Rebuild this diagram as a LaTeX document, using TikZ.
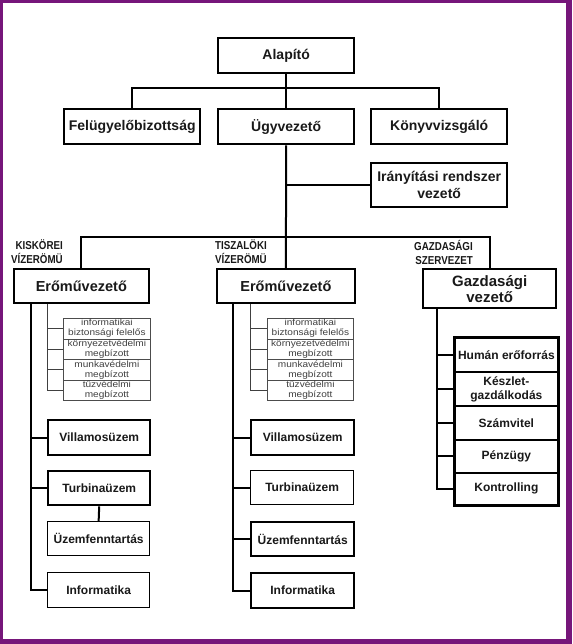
\documentclass[tikz,border=0pt]{standalone}
\usepackage{fontspec}
\setmainfont{Liberation Sans}
\newfontfamily\narrowfont[FakeStretch=0.85]{Liberation Sans}
\newfontfamily\widefont[FakeStretch=1.12]{Liberation Sans}
\definecolor{framecol}{RGB}{118,22,122}
\begin{document}
\begin{tikzpicture}[x=1pt,y=-1pt,
  box/.style={draw, anchor=north west, fill=white, align=center, inner sep=1pt, text=black!90, font=\fontsize{12}{14}\selectfont\bfseries},
  thickbox/.style={box, line width=2.4pt},
  thinbox/.style={box, line width=1.3pt},
  big/.style={font=\fontsize{14}{17}\selectfont\bfseries},
  lab/.style={anchor=east, align=right, inner sep=0pt, text=black!90, font=\narrowfont\fontsize{11.5}{14}\selectfont\bfseries},
  sbox/.style={draw=black!70, line width=0.8pt, anchor=north west, minimum height=20.5pt, inner sep=0pt, align=center, text=black!75, font=\widefont\fontsize{9}{10}\selectfont},
  stk/.style={draw, anchor=north west, line width=1.8pt, minimum width=103pt, inner sep=0pt, align=center, text=black!90, font=\fontsize{12}{14}\selectfont\bfseries},
  conn/.style={line width=2pt},
  sconn/.style={line width=0.9pt, draw=black!75}
]
\useasboundingbox (0,0) rectangle (572,644);
\fill[framecol] (0,0) rectangle (572,644);
\fill[white] (3,3) rectangle (566,639);

% top level
\node[thickbox, big, minimum width=136pt, minimum height=35pt] (alap) at (217,37) {Alapító};
\node[thickbox, big, minimum width=136pt, minimum height=35pt] (fel) at (63,108) {Felügyelőbizottság};
\node[thickbox, big, minimum width=136pt, minimum height=35pt] (ugy) at (217,108) {Ügyvezető};
\node[thickbox, big, minimum width=136pt, minimum height=35pt] (kony) at (370,108) {Könyvvizsgáló};
\node[thickbox, big, minimum width=136pt, minimum height=44pt] (iray) at (370,162) {Irányítási rendszer\\vezető};

\coordinate (bus1) at (285,88);
\draw[conn] (alap.south) -- (ugy.north);
\draw[conn] (fel.north) |- (bus1) -| (kony.north);

% second level
\node[box, line width=1.7pt, font=\fontsize{14.5}{17}\selectfont\bfseries, minimum width=135pt, minimum height=34pt] (er1) at (13,268) {Erőművezető};
\node[box, line width=1.7pt, font=\fontsize{14.5}{17}\selectfont\bfseries, minimum width=138pt, minimum height=34pt] (er2) at (216,268) {Erőművezető};
\node[thickbox, font=\fontsize{15}{16}\selectfont\bfseries, minimum width=133pt, minimum height=39pt] (gv) at (422,268) {Gazdasági\\vezető};

\draw[conn] (ugy.south) -- (er2.north);
\draw[conn] (iray.west) -- (iray.west -| ugy.south);
\coordinate (bus2) at (285,236.5);
\draw[conn] (er1.north) |- (bus2) -| (gv.north);

\node[lab] (lk) at (63,252) {KISKÖREI\\VÍZERÖMÜ};
\node[lab] (lt) at (267,252) {TISZALÖKI\\VÍZERÖMÜ};
\node[lab] (lg) at (473,252) {GAZDASÁGI\\SZERVEZET};

% left column small boxes
\node[sbox, minimum width=87pt] (a1) at (63,318) {informatikai\\biztonsági felelős};
\node[sbox, minimum width=87pt] (a2) at (63,338.5) {környezetvédelmi\\megbízott};
\node[sbox, minimum width=87pt] (a3) at (63,359) {munkavédelmi\\megbízott};
\node[sbox, minimum width=87pt] (a4) at (63,379.5) {tűzvédelmi\\megbízott};
\coordinate (s1) at ([xshift=34pt]er1.south west);
\draw[sconn] (s1) |- (a4.west);
\draw[sconn] (s1 |- a1.west) -- (a1.west);
\draw[sconn] (s1 |- a2.west) -- (a2.west);
\draw[sconn] (s1 |- a3.west) -- (a3.west);

% left column boxes
\node[thickbox, minimum width=102pt, minimum height=35pt] (v1) at (47,419) {Villamosüzem};
\node[thickbox, minimum width=102pt, minimum height=34pt] (t1) at (47,470) {Turbinaüzem};
\node[thinbox, minimum width=102pt, minimum height=34pt] (u1) at (47,521) {Üzemfenntartás};
\node[thinbox, minimum width=102pt, minimum height=35pt] (i1) at (47,572) {Informatika};
\coordinate (m1) at ([xshift=18pt]er1.south west);
\draw[conn] (m1) |- (i1.west);
\draw[conn] (m1 |- v1.west) -- (v1.west);
\draw[conn] (m1 |- t1.west) -- (t1.west);
\draw[conn] (t1.south) -- (u1.north);

% middle column small boxes
\node[sbox, minimum width=86pt] (b1) at (267,318) {informatikai\\biztonsági felelős};
\node[sbox, minimum width=86pt] (b2) at (267,338.5) {környezetvédelmi\\megbízott};
\node[sbox, minimum width=86pt] (b3) at (267,359) {munkavédelmi\\megbízott};
\node[sbox, minimum width=86pt] (b4) at (267,379.5) {tűzvédelmi\\megbízott};
\coordinate (s2) at ([xshift=34pt]er2.south west);
\draw[sconn] (s2) |- (b4.west);
\draw[sconn] (s2 |- b1.west) -- (b1.west);
\draw[sconn] (s2 |- b2.west) -- (b2.west);
\draw[sconn] (s2 |- b3.west) -- (b3.west);

% middle column boxes
\node[thickbox, minimum width=103pt, minimum height=35pt] (v2) at (250,419) {Villamosüzem};
\node[thinbox, minimum width=103pt, minimum height=34pt] (t2) at (250,470) {Turbinaüzem};
\node[thickbox, minimum width=103pt, minimum height=34pt] (u2) at (250,521) {Üzemfenntartás};
\node[thickbox, minimum width=103pt, minimum height=35pt] (i2) at (250,572) {Informatika};
\coordinate (m2) at ([xshift=17pt]er2.south west);
\draw[conn] (m2) |- (i2.west);
\draw[conn] (m2 |- v2.west) -- (v2.west);
\draw[conn] (m2 |- t2.west) -- (t2.west);
\draw[conn] (m2 |- u2.west) -- (u2.west);

% right column stack
\node[stk, minimum height=34pt] (h1) at (454,337) {Humán erőforrás};
\node[stk, minimum height=34pt] (ks) at (454,371) {Készlet-\\gazdálkodás};
\node[stk, minimum height=34pt] (sz) at (454,405) {Számvitel};
\node[stk, minimum height=33pt] (pz) at (454,439) {Pénzügy};
\node[stk, minimum height=32pt] (ko) at (454,472) {Kontrolling};
\draw[line width=2.6pt] (h1.north west) rectangle (ko.south east);
\coordinate (m3) at ([xshift=15pt]gv.south west);
\draw[conn] (m3) |- (ko.west);
\draw[conn] (m3 |- h1.west) -- (h1.west);
\draw[conn] (m3 |- ks.west) -- (ks.west);
\draw[conn] (m3 |- sz.west) -- (sz.west);
\draw[conn] (m3 |- pz.west) -- (pz.west);
\end{tikzpicture}
\end{document}
